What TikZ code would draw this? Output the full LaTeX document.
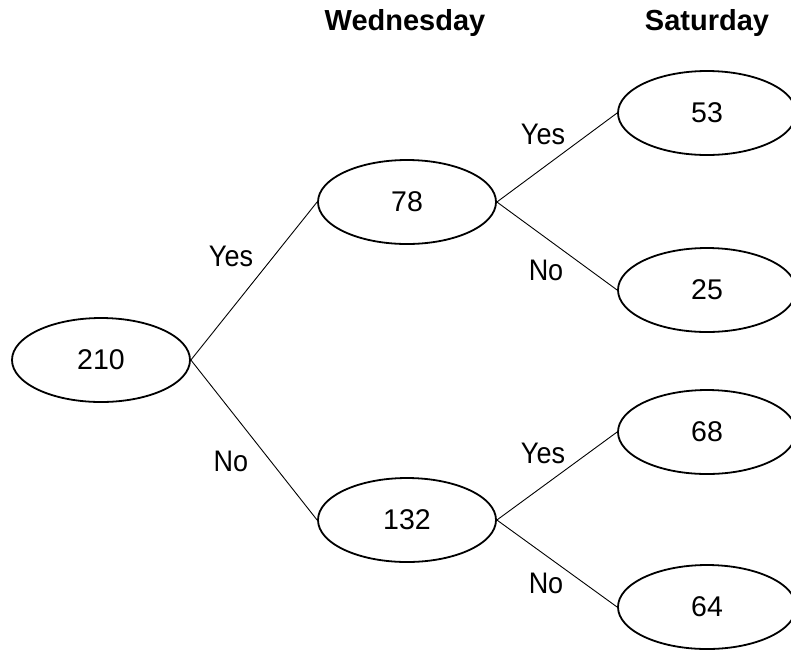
\documentclass[tikz,border=0pt]{standalone}
\usepackage{fontspec}
\setmainfont{Liberation Sans}
\usetikzlibrary{shapes.geometric}
\begin{document}
\begin{tikzpicture}[x=1pt,y=-1pt,
  count/.style={ellipse,draw,line width=1.8pt,minimum width=178pt,minimum height=84pt,inner sep=0pt,font=\fontsize{28.5}{32}\selectfont},
  branch/.style={line width=0.9pt},
  answer/.style={font=\fontsize{27}{30}\selectfont},
  header/.style={font=\bfseries\fontsize{29}{32}\selectfont}]
\useasboundingbox (0,0) rectangle (791,649);
% column headings
\node[header] (hwed) at (405,23) {Wednesday};
\node[header] (hsat) at (707,23) {Saturday};
% tree nodes
\node[count] (root) at (101,360) {210};
\node[count] (w1) at (407,202) {78};
\node[count] (w2) at (407,520) {132};
\node[count] (s1) at (707,113) {53};
\node[count] (s2) at (707,290) {25};
\node[count] (s3) at (707,432) {68};
\node[count] (s4) at (707,607) {64};
% branches
\draw[branch] (root.east) -- (w1.west);
\draw[branch] (root.east) -- (w2.west);
\draw[branch] (w1.east) -- (s1.west);
\draw[branch] (w1.east) -- (s2.west);
\draw[branch] (w2.east) -- (s3.west);
\draw[branch] (w2.east) -- (s4.west);
% branch labels
\node[answer,yscale=1.1,transform shape] (l1) at (231,256) {Yes};
\node[answer,yscale=1.1,transform shape] (l2) at (231,461) {No};
\node[answer,yscale=1.1,transform shape] (l3) at (543,134) {Yes};
\node[answer,yscale=1.1,transform shape] (l4) at (546,270) {No};
\node[answer,yscale=1.1,transform shape] (l5) at (543,453) {Yes};
\node[answer,yscale=1.1,transform shape] (l6) at (546,583) {No};
\end{tikzpicture}
\end{document}
